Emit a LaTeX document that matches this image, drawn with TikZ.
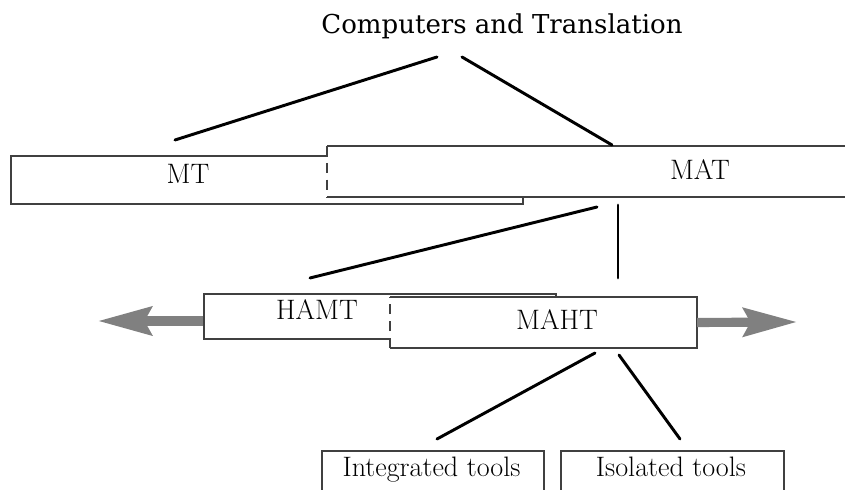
\documentclass[tikz,border=0pt]{standalone}
\usepackage{fontspec}
\usetikzlibrary{arrows.meta}

\newfontfamily\plainfont{DejaVu Serif}

\tikzset{
  box/.style={draw=black!75, line width=1.4pt, fill=white, inner sep=0pt, anchor=north west},
  openbox/.style={box, draw=none},
  border/.style={draw=black!75, line width=1.4pt},
  broken/.style={dash pattern=on 7pt off 5pt},
  tag/.style={font=\fontsize{20}{22}\selectfont, anchor=base, inner sep=0pt},
  link/.style={line width=2.1pt, line cap=round},
  spread/.style={line width=6.5pt, draw=black!50, -{Stealth[length=38pt, width=20pt, inset=5pt]}},
}

\begin{document}
\begin{tikzpicture}[x=0.025cm, y=-0.025cm]
    \clip (0,0) rectangle (845,490);
    \fill[white] (0,0) rectangle (845,490);

    \node[tag, font=\plainfont\fontsize{18.5}{20}\selectfont] (title) at (502,34) {Computers and Translation};

    % MT / MAT level
    \node[box, minimum width=12.8cm, minimum height=1.2cm] (mt) at (10,155) {};
    \node[openbox, minimum width=13.5cm, minimum height=1.225cm] (mat) at (327,146) {};
    \draw[border] (mat.north east) -- (mat.north west);
    \draw[border, broken] (mat.north west) -- (mat.south west);
    \draw[border] (mat.south west) -- (mat.south east);
    \node[tag] (mtlabel) at (188,184) {MT};
    \node[tag] (matlabel) at (700,180) {MAT};

    % HAMT / MAHT level
    \node[box, minimum width=8.8cm, minimum height=1.125cm] (hamt) at (203,293) {};
    \node[openbox, minimum width=7.625cm, minimum height=1.225cm] (maht) at (390,297) {};
    \draw[border] (maht.north west) -- (maht.north east) -- (maht.south east) -- (maht.south west);
    \draw[border, broken] (maht.south west) -- (maht.north west);
    \node[tag] (hamtlabel) at (317,320) {HAMT};
    \node[tag] (mahtlabel) at (557,330) {MAHT};

    % tools
    \node[box, minimum width=5.55cm, minimum height=1.5cm] (integrated) at (321,450) {};
    \node[box, minimum width=5.575cm, minimum height=1.5cm] (isolated) at (560,450) {};
    \node[tag] (intlabel) at (431.5,476) {Integrated tools};
    \node[tag] (isolabel) at (671,476) {Isolated tools};

    % connecting lines
    \coordinate (title-l) at (437,57);
    \coordinate (title-r) at (462,57);
    \coordinate (mt-up) at (175,140);
    \coordinate (mat-up) at (612,145);
    \coordinate (mat-l) at (597,207);
    \coordinate (mat-d) at (618,205);
    \coordinate (hamt-up) at (310,278);
    \coordinate (maht-up) at (618,278);
    \coordinate (maht-l) at (595,353);
    \coordinate (maht-r) at (619,355);
    \coordinate (int-up) at (437,439);
    \coordinate (iso-up) at (680,439);
    \draw[link] (title-l) -- (mt-up);
    \draw[link] (title-r) -- (mat-up);
    \draw[link] (mat-l) -- (hamt-up);
    \draw[link] (mat-d) -- (maht-up);
    \draw[link] (maht-l) -- (int-up);
    \draw[link] (maht-r) -- (iso-up);

    % side arrows
    \coordinate (west-end) at (203,321);
    \coordinate (west-tip) at (98,321);
    \coordinate (east-tip) at (797,322);
    \draw[spread] (west-end) -- (west-tip);
    \draw[spread] (maht.east) -- (east-tip);
\end{tikzpicture}
\end{document}
